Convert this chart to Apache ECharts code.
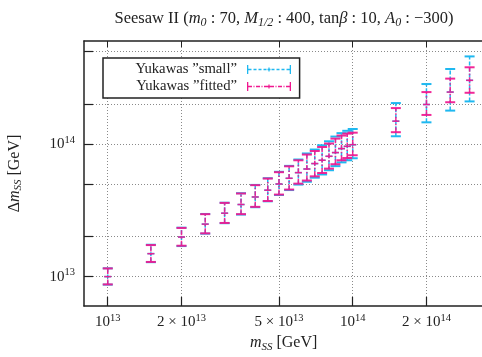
<!DOCTYPE html>
<html><head><meta charset="utf-8">
<script src="https://cdn.jsdelivr.net/npm/echarts@6/dist/echarts.min.js"></script>
<style>html,body{margin:0;padding:0;background:#fff}#c{width:482px;height:357px}</style>
</head><body><div id="c"></div>
<script>
// ---- data ----
const mass = [1e13,1.5e13,2e13,2.5e13,3e13,3.5e13,4e13,4.5e13,5e13,5.5e13,6e13,6.5e13,7e13,7.5e13,8e13,8.5e13,9e13,9.5e13,1e14,1.5e14,2e14,2.5e14,3e14];
const fittedMid  = [1.00e13,1.49e13,1.99e13,2.49e13,3.01e13,3.50e13,3.99e13,4.49e13,5.00e13,5.52e13,6.09e13,6.49e13,7.13e13,7.55e13,8.09e13,8.63e13,9.25e13,9.62e13,9.90e13,1.49e14,1.99e14,2.47e14,3.03e14];
const fittedHigh = [1.153e13,1.73e13,2.33e13,2.96e13,3.60e13,4.24e13,4.90e13,5.50e13,6.14e13,6.80e13,7.55e13,8.34e13,8.87e13,9.51e13,1.01e14,1.10e14,1.16e14,1.20e14,1.22e14,1.87e14,2.47e14,3.12e14,3.80e14];
const fittedLow  = [0.873e13,1.29e13,1.71e13,2.12e13,2.54e13,2.96e13,3.36e13,3.72e13,4.16e13,4.54e13,5.03e13,5.31e13,5.71e13,6.05e13,6.53e13,7.05e13,7.55e13,7.85e13,8.24e13,1.23e14,1.66e14,2.07e14,2.44e14];
const smallMid   = [1.00e13,1.49e13,1.99e13,2.49e13,3.01e13,3.50e13,3.99e13,4.49e13,5.00e13,5.52e13,6.09e13,6.49e13,7.13e13,7.55e13,8.09e13,8.63e13,9.25e13,9.62e13,9.90e13,1.49e14,1.99e14,2.47e14,3.03e14];
const smallHigh  = [1.155e13,1.74e13,2.34e13,2.97e13,3.61e13,4.26e13,4.92e13,5.53e13,6.18e13,6.85e13,7.65e13,8.50e13,9.10e13,9.80e13,1.05e14,1.14e14,1.21e14,1.26e14,1.30e14,2.04e14,2.84e14,3.69e14,4.59e14];
const smallLow   = [0.870e13,1.285e13,1.70e13,2.11e13,2.53e13,2.94e13,3.34e13,3.70e13,4.13e13,4.50e13,4.95e13,5.20e13,5.58e13,5.90e13,6.35e13,6.82e13,7.28e13,7.55e13,7.82e13,1.146e14,1.46e14,1.79e14,2.10e14];
const xTicks = [1e13,2e13,5e13,1e14,2e14];
const yTicks = [1e13,2e13,5e13,1e14,2e14,5e14];
const yLabelTicks = [1e13,1e14];
const seriesNames = ['Yukawas \u201Dsmall\u201D','Yukawas \u201Dfitted\u201D'];
const titleText = '{n|Seesaw II (}{i|m}{sub|0}{n| : 70, }{i|M}{sub|1/2}{n| : 400, tan}{i|\u03B2}{n| : 10, }{i|A}{sub|0}{n| : \u2212300)}';
const xName = '{i|m}{sub|SS}{n| [GeV]}';
const yName = '{n|\u0394}{i|m}{sub|SS}{n| [GeV]}';

// ---- styling ----
const SERIF = "'Liberation Serif','DejaVu Serif',serif";
const INK = '#222';
const CYAN = '#1fb8f0';
const PINK = '#f0178f';

function supLabel(v){
  const e = Math.floor(Math.log10(v) + 1e-9);
  const m = Math.round(v / Math.pow(10, e));
  return (m === 1 ? '{b|10}' : '{b|' + m + ' \u00D7 10}') + '{sup|' + e + '}';
}
const tickRich = {
  b:{fontFamily:SERIF,fontSize:15,color:INK,lineHeight:19},
  sup:{fontFamily:SERIF,fontSize:10.5,color:INK,lineHeight:11,verticalAlign:'top'}
};
const nameRich = (fs) => ({
  n:{fontFamily:SERIF,fontSize:fs,color:INK,lineHeight:fs+3},
  i:{fontFamily:SERIF,fontSize:fs,fontStyle:'italic',color:INK,lineHeight:fs+3},
  sub:{fontFamily:SERIF,fontSize:Math.round(fs*0.7),fontStyle:'italic',color:INK,lineHeight:Math.round(fs*0.7),verticalAlign:'bottom'}
});

function rectPath(segs){
  return segs.map(s => 'M' + s[0] + ' ' + s[1] + 'H' + s[2] + 'V' + s[3] + 'H' + s[0] + 'Z').join('');
}
const capsPath = [[0,0,1.3,9],[42.7,0,44,9],[21.4,2.5,22.6,6.5]];
const smallIcon = 'path://' + rectPath(capsPath.concat([[1.3,3.85,4.5,5.15],[6.5,3.85,9.5,5.15],[11.5,3.85,14.5,5.15],[16.5,3.85,19.5,5.15],[20.5,3.85,23.5,5.15],[24.5,3.85,27.5,5.15],[29.5,3.85,32.5,5.15],[34.5,3.85,37.5,5.15],[39.5,3.85,42.7,5.15]]));
const fittedIcon = 'path://' + rectPath(capsPath.concat([[1.3,3.85,5,5.15],[6.5,3.85,7.5,5.15],[9,3.85,13,5.15],[14.5,3.85,15.5,5.15],[17,3.85,27,5.15],[28.5,3.85,29.5,5.15],[31,3.85,35,5.15],[36.5,3.85,37.5,5.15],[39,3.85,42.7,5.15]]));

function errorSeries(name, lo, mid, hi, color, dash, opacity){
  return {
    type:'custom', name: name, coordinateSystem:'cartesian2d',
    itemStyle:{color: color},
    data: mass.map((m,i) => [m, lo[i], mid[i], hi[i]]),
    encode:{x:0, y:[1,2,3]},
    renderItem: function(params, api){
      const x = api.value(0);
      const pl = api.coord([x, api.value(1)]);
      const pm = api.coord([x, api.value(2)]);
      const ph = api.coord([x, api.value(3)]);
      const cw = 5, mw = 3.5;
      const base = {stroke: color, fill: null, lineWidth: 1.5, opacity: opacity};
      return {type:'group', children:[
        {type:'line', shape:{x1:pl[0],y1:pl[1],x2:ph[0],y2:ph[1]}, style:Object.assign({}, base, {lineDash: dash})},
        {type:'line', shape:{x1:pl[0]-cw,y1:pl[1],x2:pl[0]+cw,y2:pl[1]}, style:Object.assign({}, base, {lineWidth:2})},
        {type:'line', shape:{x1:ph[0]-cw,y1:ph[1],x2:ph[0]+cw,y2:ph[1]}, style:Object.assign({}, base, {lineWidth:2})},
        {type:'line', shape:{x1:pm[0]-mw,y1:pm[1],x2:pm[0]+mw,y2:pm[1]}, style:base}
      ]};
    }
  };
}

const gridLine = {show:true, lineStyle:{color:'#8a8a8a', width:1, type:[1,2]}};
const axisLineStyle = {show:true, lineStyle:{color:INK, width:1.5}};

const option = {
  animation:false,
  backgroundColor:'#fff',
  title:{
    text: titleText, left: 279, top: 4, textAlign:'center',
    textStyle:{fontFamily:SERIF, fontSize:16.5, fontWeight:'normal', color:INK, rich: nameRich(16.5)}
  },
  legend:{
    orient:'vertical', left:103, top:58, align:'right',
    itemWidth:44, itemHeight:9, itemGap:0,
    padding:[3,8.6,3,28],
    borderColor:INK, borderWidth:1.5, backgroundColor:'#fff',
    textStyle:{fontFamily:SERIF, fontSize:14.7, color:INK, width:106, align:'right', lineHeight:17, padding:[0,5,0,0]},
    data:[{name:seriesNames[0], icon:smallIcon},{name:seriesNames[1], icon:fittedIcon}]
  },
  grid:{left:84, top:41, width:416.2, height:265, containLabel:false, outerBoundsMode:'none'},
  xAxis:[{
    type:'log', logBase:10, min:8e12, max:4e14, position:'bottom',
    axisLine:axisLineStyle,
    axisTick:{show:true, inside:true, length:9, customValues:xTicks, lineStyle:{color:INK, width:1.2}},
    axisLabel:{customValues:xTicks, margin:7, formatter: v => supLabel(v), rich:tickRich},
    splitLine:gridLine, minorTick:{show:false}, minorSplitLine:{show:false},
    name:xName, nameLocation:'middle', nameGap:24,
    nameTextStyle:{fontFamily:SERIF, fontSize:16, color:INK, rich:nameRich(16), padding:[0,17,0,0]}
  },{
    type:'log', logBase:10, min:8e12, max:4e14, position:'top',
    axisLine:axisLineStyle,
    axisTick:{show:true, inside:true, length:6, customValues:xTicks, lineStyle:{color:INK, width:1}},
    axisLabel:{show:false}, splitLine:{show:false}
  }],
  yAxis:[{
    type:'log', logBase:10, min:6e12, max:6e14,
    axisLine:axisLineStyle,
    axisTick:{show:true, inside:true, length:9, customValues:yTicks, lineStyle:{color:INK, width:1.2}},
    axisLabel:{customValues:yLabelTicks, margin:9, formatter: v => supLabel(v), rich:tickRich},
    splitLine:gridLine,
    name:yName, nameLocation:'middle', nameGap:60, nameRotate:90,
    nameTextStyle:{fontFamily:SERIF, fontSize:16, color:INK, rich:nameRich(16)}
  }],
  series:[
    errorSeries(seriesNames[0], smallLow, smallMid, smallHigh, CYAN, [4,2], 1),
    errorSeries(seriesNames[1], fittedLow, fittedMid, fittedHigh, PINK, [5,2,1.5,2], 0.92)
  ]
};
const chart = echarts.init(document.getElementById('c'), null, {renderer:'canvas'});
chart.setOption(option);
</script></body></html>
